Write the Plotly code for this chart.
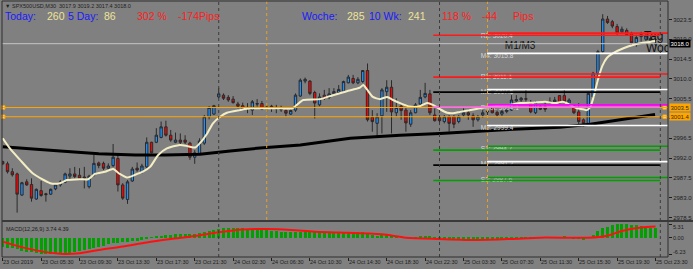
import plotly.graph_objects as go

# ---------------- data ----------------
x_labels = ["23 Oct 2019", "23 Oct 05:30", "23 Oct 09:30", "23 Oct 13:30", "23 Oct 17:30",
            "23 Oct 21:30", "24 Oct 02:30", "24 Oct 06:30", "24 Oct 10:30", "24 Oct 14:30",
            "24 Oct 18:30", "24 Oct 22:30", "25 Oct 03:30", "25 Oct 07:30", "25 Oct 11:30",
            "25 Oct 15:30", "25 Oct 19:30", "25 Oct 23:30"]
x_label_bars = [0, 8, 16, 24, 32, 40, 48, 56, 64, 72, 80, 88, 96, 104, 112, 120, 128, 136]

opens = [2991.2, 2990.7, 2988.9, 2988.4, 2983.6, 2986.6, 2986.0, 2982.7, 2984.6, 2983.9,
         2983.8, 2985.0, 2985.9, 2986.5, 2987.9, 2988.4, 2988.1, 2987.7, 2985.5, 2988.2,
         2990.9, 2990.8, 2989.7, 2990.3, 2991.9, 2985.9, 2982.6, 2986.8, 2989.7, 2988.9,
         2990.0, 2995.6, 2995.6, 2996.7, 2999.1, 2997.2, 2995.6, 2996.1, 2996.1, 2995.4,
         2992.2, 2993.1, 2995.4, 3001.4, 3002.0, 3005.9, 3006.3, 3005.8, 3005.4, 3004.3,
         3003.9, 3003.3, 3002.9, 3004.4, 3004.4, 3003.2, 3003.5, 3003.2, 3003.2, 3002.8,
         3002.0, 3002.9, 3006.1, 3009.5, 3009.5, 3006.9, 3004.1, 3006.3, 3005.8, 3006.6,
         3006.9, 3007.2, 3009.1, 3010.1, 3009.1, 3009.4, 3011.9, 3001.3, 2999.9, 3001.6,
         3007.1, 3008.1, 3002.3, 3003.8, 3002.9, 2999.7, 3002.3, 3004.3, 3005.9, 3006.6,
         3001.8, 3001.3, 3000.3, 3001.4, 3001.4, 3000.3, 3001.8, 3002.3, 3001.6, 3000.7,
         3001.8, 3002.5, 3003.3, 3002.4, 3002.0, 3002.6, 3002.9, 3005.0, 3005.2, 3005.5,
         3004.5, 3002.3, 3003.7, 3003.7, 3004.5, 3004.8, 3006.2, 3006.2, 3004.5, 3003.9,
         3002.5, 3000.7, 2999.9, 3005.9, 3011.2, 3016.2, 3023.6, 3023.0, 3021.9, 3020.7,
         3021.0, 3020.4, 3018.2, 3019.6, 3019.0, 3019.2, 3017.9]
highs = [2991.4, 2991.2, 2989.7, 2988.7, 2986.6, 2987.2, 2987.4, 2985.1, 2986.8, 2984.1,
         2985.1, 2986.0, 2987.0, 2988.7, 2989.7, 2990.0, 2989.7, 2990.0, 2988.2, 2992.7,
         2991.2, 2991.2, 2990.8, 2995.2, 2993.1, 2986.3, 2987.0, 2990.0, 2991.0, 2990.7,
         2996.7, 2995.7, 2998.8, 3000.3, 3000.5, 2998.4, 2997.8, 2997.6, 2997.2, 2995.7,
         2993.8, 2996.5, 3001.8, 3003.8, 3004.1, 3007.9, 3006.7, 3006.3, 3006.1, 3004.8,
         3004.6, 3004.5, 3005.2, 3005.4, 3005.0, 3004.1, 3004.1, 3004.1, 3003.9, 3003.1,
         3003.1, 3006.7, 3010.1, 3010.3, 3009.7, 3007.3, 3006.7, 3007.5, 3007.9, 3007.9,
         3008.6, 3009.6, 3010.9, 3010.9, 3010.4, 3012.0, 3013.5, 3002.9, 3002.2, 3007.9,
         3009.7, 3009.7, 3005.6, 3004.5, 3003.7, 3002.9, 3004.5, 3007.5, 3009.1, 3007.5,
         3003.3, 3001.8, 3001.8, 3001.8, 3001.8, 3001.8, 3003.3, 3003.1, 3002.2, 3001.8,
         3002.9, 3002.9, 3003.7, 3002.8, 3003.0, 3003.4, 3006.3, 3006.3, 3005.9, 3007.6,
         3005.2, 3005.0, 3004.3, 3004.8, 3005.8, 3005.9, 3006.3, 3007.7, 3005.6, 3004.3,
         3004.5, 3001.0, 3007.1, 3011.6, 3016.6, 3024.7, 3024.3, 3023.4, 3022.5, 3021.9,
         3021.5, 3020.7, 3020.0, 3020.7, 3020.4, 3019.7, 3019.2]
lows = [2990.4, 2988.5, 2987.8, 2979.6, 2983.4, 2985.7, 2982.1, 2982.5, 2983.2, 2982.1,
        2983.6, 2984.7, 2985.5, 2986.3, 2987.0, 2987.4, 2987.0, 2985.1, 2985.1, 2987.8,
        2989.7, 2989.3, 2989.3, 2990.0, 2984.4, 2982.5, 2981.6, 2986.6, 2988.9, 2988.5,
        2989.7, 2993.1, 2995.4, 2996.5, 2996.9, 2995.7, 2995.4, 2995.2, 2995.2, 2991.6,
        2990.7, 2992.9, 2995.0, 3000.8, 3001.8, 3005.6, 3005.2, 3004.8, 3004.4, 3003.3,
        3002.9, 3002.2, 3001.8, 3003.7, 3002.9, 3002.5, 3002.5, 3002.2, 3002.5, 3001.4,
        3001.8, 3002.5, 3005.9, 3009.0, 3006.3, 3001.0, 3003.8, 3005.2, 3005.4, 3006.3,
        3006.7, 3007.1, 3009.0, 3008.8, 3008.8, 3009.1, 3000.3, 2998.0, 2996.9, 2997.6,
        3002.5, 2997.6, 3001.4, 3000.7, 2998.0, 2999.1, 3002.2, 3003.7, 3005.6, 3001.8,
        3000.3, 2999.9, 2999.9, 2998.0, 2998.8, 2999.9, 3001.4, 3000.7, 2999.1, 3000.3,
        3001.2, 3001.8, 3002.2, 3001.4, 3001.6, 3002.2, 3002.7, 3004.8, 3004.8, 3004.8,
        3002.2, 3002.0, 3002.9, 3002.5, 3004.1, 3004.5, 3004.1, 3004.4, 3004.1, 3002.0,
        2999.5, 2999.1, 2999.5, 3005.6, 3009.7, 3015.8, 3022.5, 3021.5, 3020.0, 3020.4,
        3020.0, 3017.7, 3017.3, 3018.5, 3018.5, 3018.5, 3017.4]
closes = [2990.7, 2988.9, 2988.2, 2983.8, 2986.4, 2985.9, 2982.9, 2984.9, 2983.5, 2983.7,
          2984.9, 2985.9, 2986.6, 2988.4, 2988.4, 2987.8, 2987.4, 2987.5, 2987.9, 2990.8,
          2990.3, 2989.7, 2990.2, 2992.2, 2985.9, 2982.9, 2986.6, 2989.5, 2989.3, 2990.2,
          2995.6, 2993.2, 2997.2, 2999.1, 2997.2, 2996.1, 2996.1, 2995.6, 2995.6, 2992.2,
          2993.2, 2995.9, 3001.4, 3003.5, 3003.9, 3006.6, 3005.6, 3005.2, 3004.6, 3003.8,
          3003.3, 3003.5, 3004.8, 3004.3, 3003.1, 3003.6, 3003.8, 3003.5, 3003.0, 3002.2,
          3002.8, 3006.3, 3009.7, 3009.9, 3006.7, 3004.5, 3005.9, 3005.6, 3006.6, 3007.1,
          3007.6, 3009.4, 3010.4, 3009.1, 3009.9, 3011.9, 3000.7, 3000.3, 3001.4, 3007.5,
          3008.1, 3002.5, 3003.5, 3002.8, 3000.0, 3002.3, 3004.1, 3005.8, 3006.7, 3002.3,
          3000.5, 3000.5, 3001.4, 2999.9, 2999.7, 3001.4, 3002.3, 3001.8, 3000.7, 3001.4,
          3002.3, 3002.6, 3002.3, 3001.8, 3002.6, 3003.0, 3005.2, 3005.3, 3005.6, 3005.4,
          3002.5, 3004.5, 3003.1, 3003.1, 3004.9, 3005.2, 3004.5, 3004.8, 3005.2, 3002.3,
          3000.3, 2999.9, 3006.7, 3011.3, 3016.2, 3023.6, 3022.8, 3022.0, 3020.4, 3021.3,
          3020.1, 3018.2, 3019.4, 3020.1, 3019.8, 3018.8, 3018.0]

ma_fast_bars = [0, 1.5, 3.6, 6.3, 9.9, 11.9, 13.4, 16.1, 17.8, 19.2, 21.3, 23, 24.4, 25.9, 27.6,
                29.2, 30.7, 32.4, 34.2, 36.9, 38.6, 40.1, 41.1, 42.6, 43.8, 45.3, 46.7, 49.4,
                51.5, 57.8, 60.3, 61.3, 62.6, 66.1, 68.8, 71.7, 74.4, 75.1, 75.9, 77.1, 78.6,
                80.1, 81.3, 83.4, 84.8, 86.9, 88.4, 89.6, 91.1, 92.6, 93.8, 95.3, 98.4, 101.5,
                105.7, 107.8, 110.5, 113, 115.1, 116.7, 118.2, 119.6, 120.9, 121.7, 122.4,
                123.2, 124.0, 124.9, 125.9, 127.1, 129.2, 131.3, 133.4, 134.8, 135.9]
ma_fast_vals = [2996.5, 2994.2, 2991.6, 2988.5, 2986.3, 2986.3, 2987.0, 2987.2, 2987.2, 2988.4,
                2988.9, 2989.5, 2988.4, 2987.6, 2988.2, 2988.9, 2990.0, 2992.7, 2994.2, 2995.0,
                2994.7, 2994.4, 2995.4, 2997.6, 2999.9, 3001.4, 3002.3, 3002.9, 3003.3, 3003.3,
                3003.3, 3004.1, 3005.2, 3005.4, 3006.3, 3007.2, 3008.0, 3008.6, 3007.6, 3005.9,
                3005.4, 3005.9, 3005.2, 3004.2, 3003.7, 3003.8, 3004.5, 3004.1, 3003.1, 3002.3,
                3002.2, 3002.5, 3003.1, 3003.7, 3004.1, 3004.5, 3004.6, 3004.8, 3004.5, 3004.8,
                3004.1, 3003.3, 3003.1, 3002.9, 3003.6, 3006.3, 3009.8, 3012.9, 3014.8, 3015.8,
                3016.9, 3017.7, 3018.2, 3018.4, 3018.6]

ma_slow_bars = [0, 5.7, 12, 20, 27.6, 33.8, 41.1, 47.4, 53.6, 62, 72.4, 82.8, 91.1, 103.6,
                116.1, 122.4, 128.6, 135.9]
ma_slow_vals = [2994.6, 2994.2, 2993.6, 2993.0, 2992.7, 2992.7, 2992.9, 2993.6, 2994.3, 2995.0,
                2996.5, 2997.2, 2997.6, 2998.4, 2999.0, 2999.7, 3000.7, 3001.9]

macd_hist = [-3.30, -3.72, -3.98, -4.40, -4.99, -5.25, -5.50, -5.92, -6.18, -6.23,
             -6.20, -6.20, -6.15, -5.90, -5.67, -5.25, -4.99, -4.65, -4.23, -3.98,
             -3.55, -3.05, -2.45, -2.03, -1.78, -1.69, -1.44, -1.18, -1.02, -0.76,
             -0.17, 0.34, 0.68, 0.93, 1.10, 1.27, 1.35, 1.44, 1.52, 1.52,
             1.61, 1.78, 2.20, 2.70, 3.05, 3.55, 3.72, 3.81, 3.81, 3.72,
             3.72, 3.64, 3.55, 3.47, 3.30, 3.13, 2.88, 2.62, 2.45, 2.28,
             2.12, 2.20, 2.45, 2.62, 2.54, 2.37, 2.28, 2.20, 2.12, 2.12,
             2.20, 2.28, 2.37, 2.37, 2.37, 2.45, 1.69, 1.18, 0.85, 1.02,
             1.18, 0.76, 0.68, 0.59, 0.34, 0.25, 0.34, 0.51, 0.68, 0.42,
             0.08, -0.17, -0.34, -0.51, -0.68, -0.68, -0.68, -0.68, -0.76, -0.76,
             -0.68, -0.59, -0.59, -0.59, -0.51, -0.42, -0.17, 0.08, 0.25, 0.34,
             0.17, 0.17, 0.08, 0.08, 0.17, 0.25, 0.34, 0.42, 0.25, -0.08,
             -0.42, -0.59, 0.20, 1.20, 2.60, 3.70, 4.40, 4.90, 5.20, 5.31,
             5.25, 5.10, 4.85, 4.60, 4.30, 4.00, 3.74]
signal_bars = [0, 5, 12, 16, 20, 25, 30, 35, 40, 45, 50, 55, 60, 65, 70, 79, 84, 91, 99, 106,
               112, 122, 126, 129, 133, 136]
signal_vals = [-1.4, -4.0, -6.1, -5.9, -4.6, -3.3, -1.7, -0.4, 0.77, 2.2, 3.3, 3.46, 3.1, 2.4,
               2.1, 1.4, 0.13, -0.38, -0.77, -0.38, 0.13, 0.13, 0.9, 2.7, 4.0, 4.39]

# pivot levels (current set, drawn from the orange marker to the right edge)
pivA_names = ["R2", "M4", "R1", "M3", "Pivot", "M2", "S1", "M1", "S2"]
pivA_vals = [3020.4, 3015.8, 3011.1, 3007.6, 3004.1, 2999.4, 2994.7, 2991.2, 2987.6]
pivA_colors = ["#ff1a1a", "#ffffff", "#ff1a1a", "#ffffff", "#ff00ff", "#ffffff", "#00a000",
               "#ffffff", "#00a000"]
# second set of levels
pivB_vals = [3019.9, 3010.4, 3007.0, 3003.6, 2993.8, 2990.4, 2986.9]
pivB_colors = ["#ff1a1a", "#ff1a1a", "#000000", "#ff66ff", "#00a000", "#000000", "#00a000"]

bid_price = 3018.0
orange_levels = [3003.5, 3001.4]

price_ticks = [3023.5, 3019.0, 3014.5, 3010.0, 3005.5, 3001.0, 2996.5, 2992.0, 2987.5, 2983.0, 2978.5]
hidden_ticks = [3001.0]   # covered by the price box in the reference

# ---------------- geometry ----------------
W, H = 693, 269
ML, MR, MT, MB = 2, 25, 1, 12
PW, PH = W - ML - MR, H - MT - MB


def pxx(px):
    return (px - ML) / PW


def pxy(py):
    return (H - MB - py) / PH


bars = list(range(len(opens)))
FONT = "Liberation Sans, Arial, sans-serif"

fig = go.Figure()

fig.add_trace(go.Candlestick(
    x=bars, open=opens, high=highs, low=lows, close=closes,
    increasing=dict(fillcolor="#1e90ff", line=dict(color="#2a2a2a", width=1)),
    decreasing=dict(fillcolor="#ff0000", line=dict(color="#2a2a2a", width=1)),
    whiskerwidth=0, xaxis="x", yaxis="y", hoverinfo="skip", showlegend=False))

fig.add_trace(go.Scatter(x=ma_slow_bars, y=ma_slow_vals, mode="lines",
                         line=dict(color="#000000", width=3), yaxis="y", showlegend=False,
                         hoverinfo="skip"))
fig.add_trace(go.Scatter(x=ma_fast_bars, y=ma_fast_vals, mode="lines",
                         line=dict(color="#f3edc4", width=2, shape="spline", smoothing=0.6),
                         yaxis="y", showlegend=False, hoverinfo="skip"))

# pivot labels
lab_txt = [f"{n}: {v:.1f}" for n, v in zip(pivA_names, pivA_vals)]
fig.add_trace(go.Scatter(x=[99.6] * len(pivA_vals), y=pivA_vals, mode="text", text=lab_txt,
                         textposition="bottom right",
                         textfont=dict(family=FONT, size=6.5, color="#d6d6d6"),
                         yaxis="y", showlegend=False, hoverinfo="skip"))
# big chart texts
fig.add_trace(go.Scatter(x=[104.6, 133.6, 134.0], y=[3017.3, 3019.5, 3016.9], mode="text",
                         text=["M1/M3", "Tag", "Woche"], textposition="middle right",
                         textfont=dict(family=FONT, size=[10, 12, 12], color="#111111"),
                         yaxis="y", showlegend=False, hoverinfo="skip", cliponaxis=True))
# orange markers
fig.add_trace(go.Scatter(x=[0.1, 0.1, 137.9, 137.9], y=orange_levels + orange_levels, mode="markers",
                         marker=dict(symbol="square", size=3.5, color="#f7e0b0",
                                     line=dict(color="#ffa500", width=1)),
                         yaxis="y", showlegend=False, hoverinfo="skip", cliponaxis=False))

# MACD
fig.add_trace(go.Bar(x=bars, y=macd_hist, width=0.62, marker=dict(color="#00a000", line=dict(width=0)),
                     yaxis="y2", showlegend=False, hoverinfo="skip"))
fig.add_trace(go.Scatter(x=signal_bars, y=signal_vals, mode="lines",
                         line=dict(color="#ff1010", width=2, shape="spline", smoothing=0.8),
                         yaxis="y2", showlegend=False, hoverinfo="skip"))

shapes = []
# horizontal full-width lines
shapes.append(dict(type="line", xref="paper", x0=0, x1=1, yref="y", y0=bid_price, y1=bid_price,
                   line=dict(color="#c4c4c4", width=1)))
for lv in orange_levels:
    shapes.append(dict(type="line", xref="paper", x0=0, x1=1, yref="y", y0=lv, y1=lv,
                       line=dict(color="#ffa500", width=1)))
# pivot sets
for v, c in zip(pivB_vals, pivB_colors):
    shapes.append(dict(type="line", xref="x", x0=89.7, x1=137.0, yref="y", y0=v, y1=v,
                       line=dict(color=c, width=1.6)))
for v, c in zip(pivA_vals, pivA_colors):
    shapes.append(dict(type="line", xref="x", x0=100.9, x1=139, yref="y", y0=v, y1=v,
                       line=dict(color=c, width=1.6)))
# separators
for b in [45, 91, 137]:
    shapes.append(dict(type="line", xref="x", x0=b, x1=b, yref="paper", y0=0, y1=1,
                       line=dict(color="#3c3c3c", width=1, dash="dot")))
for b in [55, 101]:
    shapes.append(dict(type="line", xref="x", x0=b, x1=b, yref="paper", y0=pxy(220), y1=1,
                       line=dict(color="#e8a020", width=1, dash="dot")))
# frame
FR = "#2e2e2e"
shapes += [
    dict(type="line", xref="paper", yref="paper", x0=0, x1=0, y0=0, y1=1, line=dict(color=FR, width=1)),
    dict(type="line", xref="paper", yref="paper", x0=1, x1=1, y0=0, y1=1, line=dict(color=FR, width=1)),
    dict(type="line", xref="paper", yref="paper", x0=0, x1=1, y0=1, y1=1, line=dict(color=FR, width=1)),
    dict(type="line", xref="paper", yref="paper", x0=0, x1=1, y0=0, y1=0, line=dict(color=FR, width=1)),
    dict(type="line", xref="paper", yref="paper", x0=0, x1=1.04, y0=pxy(221), y1=pxy(221),
         line=dict(color="#3a3a3a", width=2)),
]

ann = []


def txt(px, py, s, color, size, anchor="left", bg=None):
    d = dict(xref="paper", yref="paper", x=pxx(px), y=pxy(py), text=s, showarrow=False,
             xanchor=anchor, yanchor="middle", font=dict(family=FONT, size=size, color=color))
    if bg:
        d["bgcolor"] = bg
    ann.append(d)


BLUE, CREAM, RED = "#1a1aff", "#eee39a", "#ff2020"
header = [(5, "Today:", BLUE), (46.7, "260", CREAM), (68.3, "5 Day:", BLUE), (104, "86", CREAM),
          (136.7, "302 %", RED), (178.3, "-174Pips", RED), (301.7, "Woche:", BLUE), (346.7, "285", CREAM),
          (369, "10 Wk:", BLUE), (408, "241", CREAM), (441.7, "118 %", RED), (481.7, "-44", RED),
          (512.7, "Pips", RED)]
for px, s, c in header:
    txt(px - 2, 15.8, s, c, 10.5)

txt(3, 6, "▼ SPX500USD,M30  3017.9 3019.2 3017.4 3018.0", "#1e1e1e", 5.5)
txt(4, 228.5, "MACD(12,26,9) 3.74 4.39", "#1e1e1e", 5.5)

# x labels
for b, s in zip(x_label_bars, x_labels):
    ann.append(dict(xref="x", yref="paper", x=b, y=pxy(261.5), text=s, showarrow=False,
                    xanchor="left", yanchor="middle", xshift=-1.5,
                    font=dict(family=FONT, size=5.5, color="#1e1e1e")))

# MACD scale labels
for py, s in [(226.7, "5.31"), (238.3, "0.00"), (252.3, "-6.23")]:
    txt(671, py, s, "#1e1e1e", 5.5)

# price label boxes
for v, s, bg, fc in [(bid_price, "3018.0", "#000000", "#ffffff"),
                     (orange_levels[0], f"{orange_levels[0]:.1f}", "#ffa500", "#3a2a00"),
                     (orange_levels[1], f"{orange_levels[1]:.1f}", "#ffa500", "#3a2a00")]:
    ann.append(dict(xref="paper", yref="y", x=pxx(669), y=v, text=s, showarrow=False,
                    xanchor="left", yanchor="middle", bgcolor=bg, borderpad=0.5,
                    font=dict(family=FONT, size=6, color=fc)))

fig.update_layout(
    width=W, height=H, margin=dict(l=ML, r=MR, t=MT, b=MB, pad=0),
    paper_bgcolor="#808080", plot_bgcolor="#808080",
    shapes=shapes, annotations=ann, bargap=0, showlegend=False,
    xaxis=dict(range=[-0.15, 138.6], anchor="y2", showgrid=False, zeroline=False,
               showticklabels=False, tickmode="array", tickvals=x_label_bars,
               ticks="outside", ticklen=3, tickcolor="#1e1e1e", rangeslider=dict(visible=False),
               fixedrange=True),
    yaxis=dict(domain=[pxy(220), 1], range=[2977.93, 3027.7], side="right", showgrid=False,
               zeroline=False, tickmode="array", tickvals=price_ticks,
               ticktext=["" if t in hidden_ticks else f"{t:.1f}" for t in price_ticks],
               ticks="outside", ticklen=3,
               tickcolor="#1e1e1e", tickfont=dict(family=FONT, size=6, color="#1e1e1e")),
    yaxis2=dict(domain=[0, pxy(222)], range=[-7.31, 6.15], side="right", showgrid=False,
                zeroline=False, showticklabels=False, tickmode="array", tickvals=[5.31, 0, -6.23],
                ticks="outside", ticklen=3, tickcolor="#1e1e1e"),
)

fig.write_html("out.html")
